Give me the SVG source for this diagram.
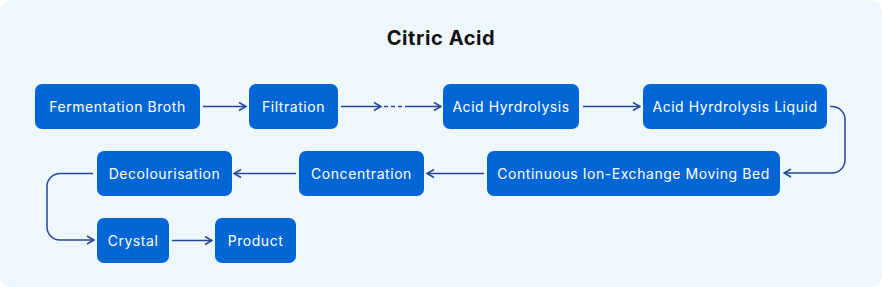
<svg xmlns="http://www.w3.org/2000/svg" width="882" height="287" viewBox="0 0 882 287">
<defs>
<marker id="ah" viewBox="0 0 10 10" refX="9" refY="5" markerWidth="10" markerHeight="10" markerUnits="userSpaceOnUse" orient="auto">
<path d="M2,1 L9,5 L2,9" fill="none" stroke="#24479A" stroke-width="1.6" stroke-linejoin="miter"/>
</marker>
</defs>
<style>
.bg{fill:#EEF7FE}
.node rect{fill:#0066D6}
.node text{fill:#FFFFFF;font-family:Inter,"Open Sans","Liberation Sans",sans-serif;font-size:14px;letter-spacing:0.55px;text-anchor:middle;dominant-baseline:central}
.title{fill:#111111;font-family:Inter,"Liberation Sans",sans-serif;font-size:20px;font-weight:700;letter-spacing:0.6px;text-anchor:middle}
.edge{fill:none;stroke:#24479A;stroke-width:1.5;marker-end:url(#ah)}
.dash{fill:none;stroke:#24479A;stroke-width:1.5;stroke-dasharray:4 3}
</style>
<rect class="bg" x="0" y="0" width="882" height="287" rx="12"/>
<text class="title" x="441" y="45">Citric Acid</text>
<g id="connectors">
<path class="edge" d="M203,106.5 H246"/>
<path class="edge" d="M341,106.5 H381"/>
<path class="dash" d="M384,106.5 H408"/>
<path class="edge" d="M408,106.5 H441"/>
<path class="edge" d="M583,106.5 H640"/>
<path class="edge" d="M830,106.5 H832 A13,13 0 0 1 845,119.5 V160 A13,13 0 0 1 832,173 H784"/>
<path class="edge" d="M484,173.5 H427"/>
<path class="edge" d="M296,173.5 H234"/>
<path class="edge" d="M93,173.5 H60 A13,13 0 0 0 47,186.5 V227 A13,13 0 0 0 60,240 H94"/>
<path class="edge" d="M172,240.5 H212"/>
</g>
<g id="n-fermentation" class="node"><rect x="35" y="84" width="165" height="45" rx="7"/><text x="117.5" y="106.5">Fermentation Broth</text></g>
<g id="n-filtration" class="node"><rect x="249" y="84" width="89" height="45" rx="7"/><text x="293.5" y="106.5">Filtration</text></g>
<g id="n-acid-hydrolysis" class="node"><rect x="443" y="84" width="136" height="45" rx="7"/><text x="511" y="106.5">Acid Hyrdrolysis</text></g>
<g id="n-acid-liquid" class="node"><rect x="643" y="84" width="184" height="45" rx="7"/><text x="735" y="106.5">Acid Hyrdrolysis Liquid</text></g>
<g id="n-ion-exchange" class="node"><rect x="487" y="151" width="293" height="45" rx="7"/><text x="633.5" y="173.5">Continuous Ion-Exchange Moving Bed</text></g>
<g id="n-concentration" class="node"><rect x="299" y="151" width="125" height="45" rx="7"/><text x="361.5" y="173.5">Concentration</text></g>
<g id="n-decolourisation" class="node"><rect x="97" y="151" width="135" height="45" rx="7"/><text x="164.5" y="173.5">Decolourisation</text></g>
<g id="n-crystal" class="node"><rect x="97" y="218" width="72" height="45" rx="7"/><text x="133" y="240.5">Crystal</text></g>
<g id="n-product" class="node"><rect x="215" y="218" width="81" height="45" rx="7"/><text x="255.5" y="240.5">Product</text></g>
</svg>
